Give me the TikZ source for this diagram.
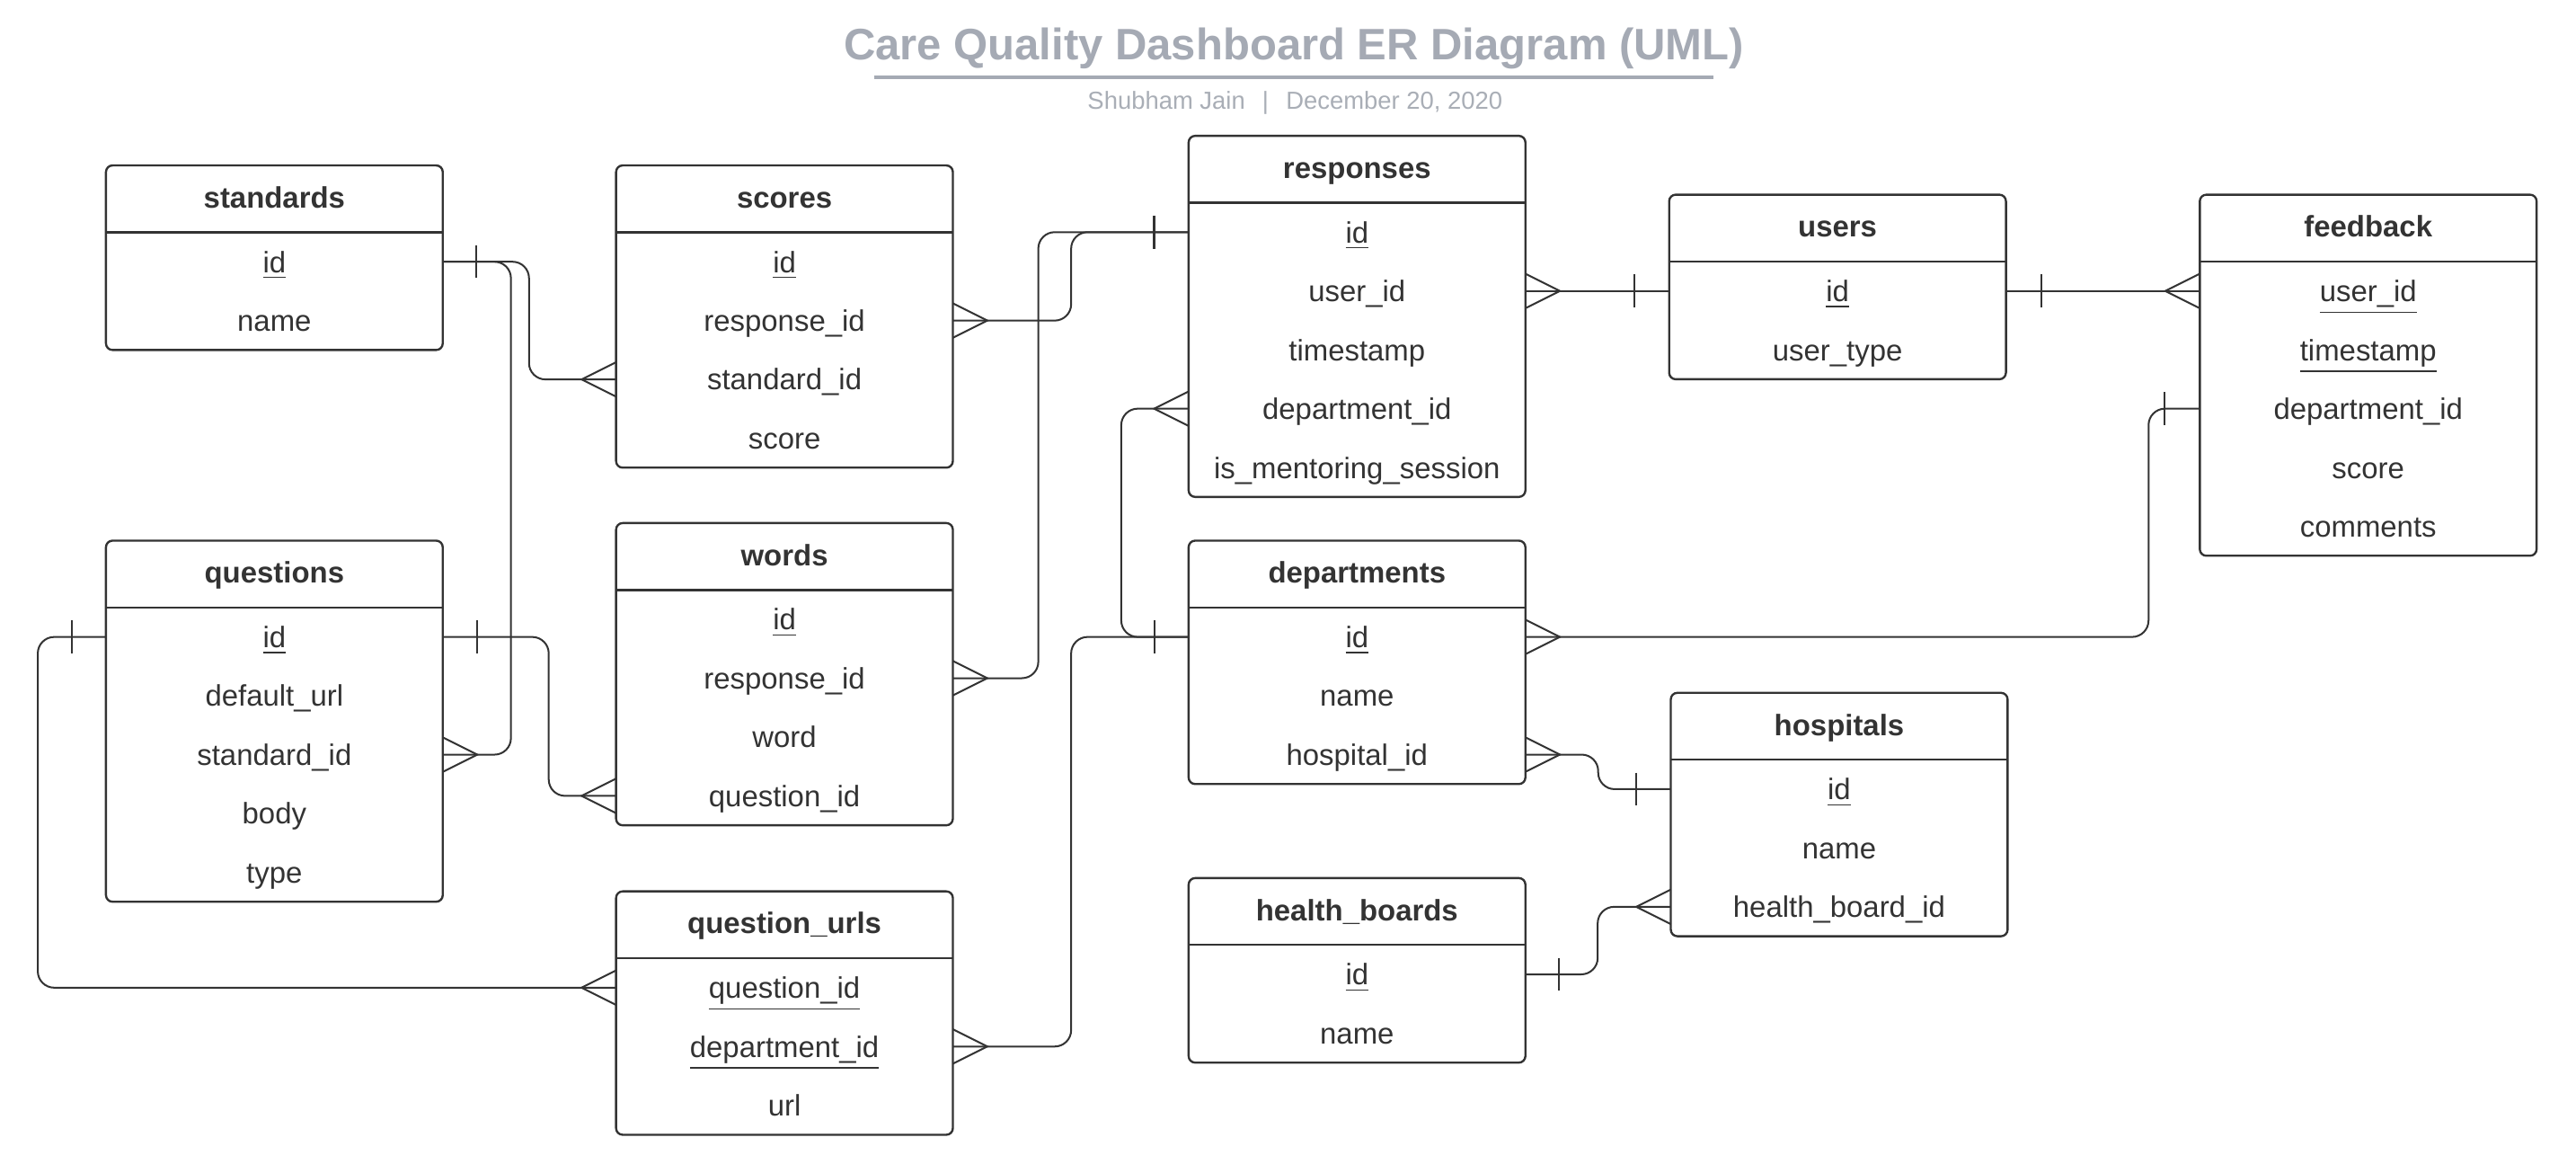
\documentclass[tikz,border=0pt]{standalone}
\usepackage{fontspec}
\setmainfont{Liberation Sans}
\usetikzlibrary{positioning}
\definecolor{ink}{HTML}{333333}
\definecolor{titlegray}{HTML}{A5AAB4}
\definecolor{subgray}{HTML}{A9AEB6}
\begin{document}
\begin{tikzpicture}[x=0.5pt,y=-0.5pt,
    head/.style={minimum width=102.5pt,minimum height=20.35pt,inner sep=0pt,outer sep=0pt,
      font=\fontsize{9}{11}\selectfont\bfseries,text=ink,text height=7pt,text depth=1.5pt},
    field/.style={minimum width=102.5pt,minimum height=17.9pt,inner sep=0pt,outer sep=0pt,
      font=\fontsize{9}{11}\selectfont,text=ink,text height=8pt,text depth=1.5pt},
    box/.style={draw=ink,line width=0.65pt,rounded corners=2pt},
    link/.style={draw=ink,line width=0.55pt},
    elbow/.style={link,rounded corners=5pt}]
      \useasboundingbox[fill=white] (0,0) rectangle (1568,713.7);
      % title
      \node[anchor=base,text=titlegray,font=\fontsize{13.4}{16}\selectfont\bfseries] (title) at (787.6,36.5) {Care Quality Dashboard ER Diagram (UML)};
      \draw[titlegray,line width=1.1pt] (532,47) -- (1043,47);
      \node[anchor=base,text=subgray,font=\fontsize{7.5}{9}\selectfont] (subtitle) at (788.3,66.5) {Shubham Jain\hspace{0.7em}|\hspace{0.7em}December 20, 2020};
      % standards
      \node[head] (standards) at (167,121) {standards};
      \node[field,below=0pt of standards] (standards-id) {\underline{id}};
      \node[field,below=0pt of standards-id] (standards-name) {name};
      \draw[box] (standards.north west) rectangle (standards-name.south east);
      \draw[box] (standards.south west) -- (standards.south east);
      % scores
      \node[head] (scores) at (477.5,121) {scores};
      \node[field,below=0pt of scores] (scores-id) {\underline{id}};
      \node[field,below=0pt of scores-id] (scores-resp) {response\_id};
      \node[field,below=0pt of scores-resp] (scores-std) {standard\_id};
      \node[field,below=0pt of scores-std] (scores-score) {score};
      \draw[box] (scores.north west) rectangle (scores-score.south east);
      \draw[box] (scores.south west) -- (scores.south east);
      % questions
      \node[head] (questions) at (167,349.3) {questions};
      \node[field,below=0pt of questions] (questions-id) {\underline{id}};
      \node[field,below=0pt of questions-id] (questions-url) {default\_url};
      \node[field,below=0pt of questions-url] (questions-std) {standard\_id};
      \node[field,below=0pt of questions-std] (questions-body) {body};
      \node[field,below=0pt of questions-body] (questions-type) {type};
      \draw[box] (questions.north west) rectangle (questions-type.south east);
      \draw[box] (questions.south west) -- (questions.south east);
      % words
      \node[head] (words) at (477.5,338.6) {words};
      \node[field,below=0pt of words] (words-id) {\underline{id}};
      \node[field,below=0pt of words-id] (words-resp) {response\_id};
      \node[field,below=0pt of words-resp] (words-word) {word};
      \node[field,below=0pt of words-word] (words-q) {question\_id};
      \draw[box] (words.north west) rectangle (words-q.south east);
      \draw[box] (words.south west) -- (words.south east);
      % question_urls
      \node[head] (urls) at (477.5,562.7) {question\_urls};
      \node[field,below=0pt of urls] (urls-q) {\underline{question\_id}};
      \node[field,below=0pt of urls-q] (urls-dept) {\underline{department\_id}};
      \node[field,below=0pt of urls-dept] (urls-url) {url};
      \draw[box] (urls.north west) rectangle (urls-url.south east);
      \draw[box] (urls.south west) -- (urls.south east);
      % responses
      \node[head] (responses) at (826,103) {responses};
      \node[field,below=0pt of responses] (responses-id) {\underline{id}};
      \node[field,below=0pt of responses-id] (responses-user) {user\_id};
      \node[field,below=0pt of responses-user] (responses-time) {timestamp};
      \node[field,below=0pt of responses-time] (responses-dept) {department\_id};
      \node[field,below=0pt of responses-dept] (responses-mentor) {is\_mentoring\_session};
      \draw[box] (responses.north west) rectangle (responses-mentor.south east);
      \draw[box] (responses.south west) -- (responses.south east);
      % departments
      \node[head] (departments) at (826,349.3) {departments};
      \node[field,below=0pt of departments] (departments-id) {\underline{id}};
      \node[field,below=0pt of departments-id] (departments-name) {name};
      \node[field,below=0pt of departments-name] (departments-hosp) {hospital\_id};
      \draw[box] (departments.north west) rectangle (departments-hosp.south east);
      \draw[box] (departments.south west) -- (departments.south east);
      % health_boards
      \node[head] (boards) at (826,554.6) {health\_boards};
      \node[field,below=0pt of boards] (boards-id) {\underline{id}};
      \node[field,below=0pt of boards-id] (boards-name) {name};
      \draw[box] (boards.north west) rectangle (boards-name.south east);
      \draw[box] (boards.south west) -- (boards.south east);
      % users
      \node[head] (users) at (1118.5,138.8) {users};
      \node[field,below=0pt of users] (users-id) {\underline{id}};
      \node[field,below=0pt of users-id] (users-type) {user\_type};
      \draw[box] (users.north west) rectangle (users-type.south east);
      \draw[box] (users.south west) -- (users.south east);
      % hospitals
      \node[head] (hospitals) at (1119.5,441.9) {hospitals};
      \node[field,below=0pt of hospitals] (hospitals-id) {\underline{id}};
      \node[field,below=0pt of hospitals-id] (hospitals-name) {name};
      \node[field,below=0pt of hospitals-name] (hospitals-board) {health\_board\_id};
      \draw[box] (hospitals.north west) rectangle (hospitals-board.south east);
      \draw[box] (hospitals.south west) -- (hospitals.south east);
      % feedback
      \node[head] (feedback) at (1441.5,138.8) {feedback};
      \node[field,below=0pt of feedback] (feedback-user) {\underline{user\_id}};
      \node[field,below=0pt of feedback-user] (feedback-time) {\underline{timestamp}};
      \node[field,below=0pt of feedback-time] (feedback-dept) {department\_id};
      \node[field,below=0pt of feedback-dept] (feedback-score) {score};
      \node[field,below=0pt of feedback-score] (feedback-comments) {comments};
      \draw[box] (feedback.north west) rectangle (feedback-comments.south east);
      \draw[box] (feedback.south west) -- (feedback.south east);
      % relations
      \draw[elbow] (standards-id.east) -- ++(52.5,0) |- (scores-std.west);
      \draw[elbow] (standards-id.east) -- ++(41.5,0) |- (questions-std.east);
      \draw[elbow] (scores-resp.east) -- ++(72,0) |- (responses-id.west);
      \draw[elbow] (words-resp.east) -- ++(52,0) |- (responses-id.west);
      \draw[link] (responses-user.east) -- (users-id.west);
      \draw[link] (users-id.east) -- (feedback-user.west);
      \draw[elbow] (departments-id.east) -- ++(379.3,0) |- (feedback-dept.west);
      \draw[elbow] (responses-dept.west) -- ++(-41,0) |- (departments-id.west);
      \draw[elbow] (urls-dept.east) -- ++(72,0) |- (departments-id.west);
      \draw[elbow] (questions-id.east) -- ++(64.5,0) |- (words-q.west);
      \draw[elbow] (questions-id.west) -- ++(-41.5,0) |- (urls-q.west);
      \draw[elbow] (departments-hosp.east) -- ++(44.3,0) |- (hospitals-id.west);
      \draw[elbow] (boards-id.east) -- ++(44,0) |- (hospitals-board.west);
      % many ends
      \draw[link] (scores-std.west) +(0,-10.5) -- +(-21,0) -- +(0,10.5);
      \draw[link] (questions-std.east) +(0,-10.5) -- +(21,0) -- +(0,10.5);
      \draw[link] (scores-resp.east) +(0,-10.5) -- +(21,0) -- +(0,10.5);
      \draw[link] (words-resp.east) +(0,-10.5) -- +(21,0) -- +(0,10.5);
      \draw[link] (responses-user.east) +(0,-10.5) -- +(21,0) -- +(0,10.5);
      \draw[link] (feedback-user.west) +(0,-10.5) -- +(-21,0) -- +(0,10.5);
      \draw[link] (departments-id.east) +(0,-10.5) -- +(21,0) -- +(0,10.5);
      \draw[link] (responses-dept.west) +(0,-10.5) -- +(-21,0) -- +(0,10.5);
      \draw[link] (urls-dept.east) +(0,-10.5) -- +(21,0) -- +(0,10.5);
      \draw[link] (words-q.west) +(0,-10.5) -- +(-21,0) -- +(0,10.5);
      \draw[link] (urls-q.west) +(0,-10.5) -- +(-21,0) -- +(0,10.5);
      \draw[link] (departments-hosp.east) +(0,-10.5) -- +(21,0) -- +(0,10.5);
      \draw[link] (hospitals-board.west) +(0,-10.5) -- +(-21,0) -- +(0,10.5);
      % one ends
      \draw[link] (standards-id.east) +(20.5,-10) -- +(20.5,10);
      \draw[link] (responses-id.west) +(-21,-10) -- +(-21,10);
      \draw[link] (users-id.west) +(-21,-10) -- +(-21,10);
      \draw[link] (users-id.east) +(21.4,-10) -- +(21.4,10);
      \draw[link] (feedback-dept.west) +(-21.7,-10) -- +(-21.7,10);
      \draw[link] (departments-id.west) +(-20.5,-10) -- +(-20.5,10);
      \draw[link] (questions-id.east) +(21,-10) -- +(21,10);
      \draw[link] (questions-id.west) +(-21,-10) -- +(-21,10);
      \draw[link] (hospitals-id.west) +(-21,-10) -- +(-21,10);
      \draw[link] (boards-id.east) +(20.2,-10) -- +(20.2,10);
    \end{tikzpicture}
\end{document}
